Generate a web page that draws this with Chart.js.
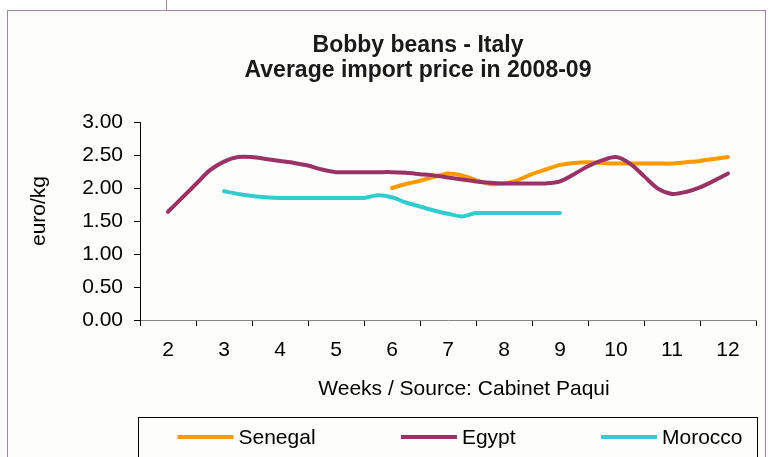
<!DOCTYPE html>
<html>
<head>
<meta charset="utf-8">
<title>Bobby beans - Italy</title>
<script src="https://cdn.jsdelivr.net/npm/chart.js@4/dist/chart.umd.min.js"></script>
<style>
  body { margin: 0; background: #ffffff; }
  #wrap { position: relative; width: 771px; height: 457px; overflow: hidden; }
  #frame {
    position: absolute; left: 7px; top: 10px; width: 757px; height: 470px;
    border: 1px solid #a882ac; background: #fdfdfc;
  }
  #stub { position: absolute; left: 166px; top: 0; width: 1px; height: 10px; background: #a882ac; }
  #chart { position: absolute; left: 0; top: 0; }
</style>
</head>
<body>
<div id="wrap">
  <div id="frame"></div>
  <div id="stub"></div>
  <canvas id="chart" width="771" height="457"></canvas>
</div>
<script>
'use strict';

// ******* DATA *******
const titleLines = ['Bobby beans - Italy', 'Average import price in 2008-09'];
const xTitle = 'Weeks / Source: Cabinet Paqui';
const yTitle = 'euro/kg';

// week labels on the axis
const weekLabels = ['2', '3', '4', '5', '6', '7', '8', '9', '10', '11', '12'];

// readings taken every quarter week
const weekPts = [
  2, 2.25, 2.5, 2.75, 3, 3.25, 3.5, 3.75, 4, 4.25, 4.5, 4.75,
  5, 5.25, 5.5, 5.75, 6, 6.25, 6.5, 6.75, 7, 7.25, 7.5, 7.75,
  8, 8.25, 8.5, 8.75, 9, 9.25, 9.5, 9.75, 10, 10.25, 10.5, 10.75,
  11, 11.25, 11.5, 11.75, 12
];

const senegal = [
  null, null, null, null, null, null, null, null, null, null, null, null,
  null, null, null, null, 2.00, 2.06, 2.11, 2.17, 2.22, 2.19, 2.12, 2.06,
  2.07, 2.12, 2.21, 2.28, 2.35, 2.38, 2.39, 2.38, 2.37, 2.37, 2.37, 2.37,
  2.37, 2.39, 2.41, 2.44, 2.47
];

const egypt = [
  1.64, 1.85, 2.06, 2.27, 2.40, 2.47, 2.47, 2.44, 2.41, 2.38, 2.34, 2.28,
  2.24, 2.24, 2.24, 2.24, 2.24, 2.23, 2.21, 2.19, 2.16, 2.13, 2.10, 2.08,
  2.07, 2.07, 2.07, 2.07, 2.10, 2.21, 2.33, 2.42, 2.47, 2.37, 2.18, 1.99,
  1.91, 1.94, 2.01, 2.11, 2.22
];

const morocco = [
  null, null, null, null, 1.95, 1.91, 1.88, 1.86, 1.85, 1.85, 1.85, 1.85,
  1.85, 1.85, 1.85, 1.89, 1.86, 1.78, 1.72, 1.66, 1.61, 1.57, 1.62, 1.62,
  1.62, 1.62, 1.62, 1.62, 1.62, null, null, null, null, null, null, null,
  null, null, null, null, null
];

const yTicks = [0, 0.5, 1, 1.5, 2, 2.5, 3];

// ******* HELPERS *******
const FONT = '"Liberation Sans", Arial, sans-serif';

function toPoints(values) {
  let pts = [];
  for (let i = 0; i < weekPts.length; i++) {
    pts.push({ x: weekPts[i], y: values[i] });
  }
  return pts;
}

function lineSet(label, values, color, order) {
  return {
    label: label,
    data: toPoints(values),
    xAxisID: 'xw',
    borderColor: color,
    backgroundColor: color,
    borderWidth: 4,
    pointRadius: 0,
    tension: 0.3,
    borderCapStyle: 'round',
    borderJoinStyle: 'round',
    spanGaps: false,
    order: order
  };
}

// title, axis titles and the boxed legend
const chartText = {
  id: 'chartText',
  afterDraw(chart) {
    const ctx = chart.ctx;
    const area = chart.chartArea;
    ctx.save();

    // title
    ctx.fillStyle = '#1a1a1a';
    ctx.textAlign = 'center';
    ctx.textBaseline = 'alphabetic';
    ctx.font = 'bold 23px ' + FONT;
    ctx.fillText(titleLines[0], 418, 52);
    ctx.fillText(titleLines[1], 418, 77);

    // x axis title
    ctx.fillStyle = '#000';
    ctx.font = '21px ' + FONT;
    ctx.fillText(xTitle, 464, 395);

    // y axis title
    ctx.save();
    ctx.translate(45, 211);
    ctx.rotate(-Math.PI / 2);
    ctx.fillText(yTitle, 0, 0);
    ctx.restore();

    // legend box
    const boxLeft = Math.round(area.left) - 1.5;
    const boxRight = Math.round(area.right) + 1.5;
    const boxTop = 417.5;
    ctx.strokeStyle = '#000';
    ctx.lineWidth = 1;
    ctx.strokeRect(boxLeft, boxTop, boxRight - boxLeft, 60);

    // legend items, spread with equal gaps
    const items = [chart.data.datasets[0], chart.data.datasets[1], chart.data.datasets[2]];
    const sampleLen = 56;
    const gapText = 5;
    ctx.font = '21px ' + FONT;
    let widths = items.map(d => sampleLen + gapText + ctx.measureText(d.label).width);
    let startX = boxLeft + 39;
    let endX = boxRight - 15;
    let total = widths.reduce((a, b) => a + b, 0);
    let gap = (endX - startX - total) / (items.length - 1);
    let x = startX;
    const midY = 437;
    ctx.textAlign = 'left';
    for (let i = 0; i < items.length; i++) {
      ctx.strokeStyle = items[i].borderColor;
      ctx.lineWidth = 4;
      ctx.beginPath();
      ctx.moveTo(x, midY);
      ctx.lineTo(x + sampleLen, midY);
      ctx.stroke();
      ctx.fillStyle = '#000';
      ctx.fillText(items[i].label, x + sampleLen + gapText, 444);
      x += widths[i] + gap;
    }
    ctx.restore();
  }
};

// ******* CHART *******
Chart.defaults.font.family = FONT;
Chart.defaults.color = '#000';

const ctx = document.getElementById('chart').getContext('2d');
const myChart = new Chart(ctx, {
  type: 'line',
  data: {
    datasets: [
      lineSet('Senegal', senegal, '#ff9900', 1),
      lineSet('Egypt', egypt, '#993366', 0),
      lineSet('Morocco', morocco, '#33cccc', 2)
    ]
  },
  options: {
    responsive: false,
    animation: false,
    events: [],
    layout: { padding: { top: 122, left: 7, right: 15, bottom: 94 } },
    plugins: {
      legend: { display: false },
      title: { display: false },
      tooltip: { enabled: false }
    },
    scales: {
      x: {
        type: 'category',
        labels: weekLabels,
        offset: true,
        grid: {
          offset: true,
          drawOnChartArea: false,
          tickLength: 6,
          tickColor: '#000'
        },
        border: { color: '#868686', width: 1 },
        ticks: { font: { size: 21 }, color: '#000', padding: 12, autoSkip: false, maxRotation: 0 },
        afterFit(scale) { scale.height = 43; }
      },
      xw: {
        type: 'linear',
        display: false,
        min: 1.5,
        max: 12.5
      },
      y: {
        min: 0,
        max: 3,
        afterBuildTicks(scale) {
          scale.ticks = yTicks.map(v => ({ value: v }));
        },
        grid: {
          drawOnChartArea: false,
          tickLength: 6,
          tickColor: '#000'
        },
        border: { color: '#000', width: 1 },
        ticks: {
          font: { size: 21 },
          color: '#000',
          padding: 11,
          callback: v => Number(v).toFixed(2)
        },
        afterFit(scale) { scale.width = 133; }
      }
    }
  },
  plugins: [chartText]
});
</script>
</body>
</html>
